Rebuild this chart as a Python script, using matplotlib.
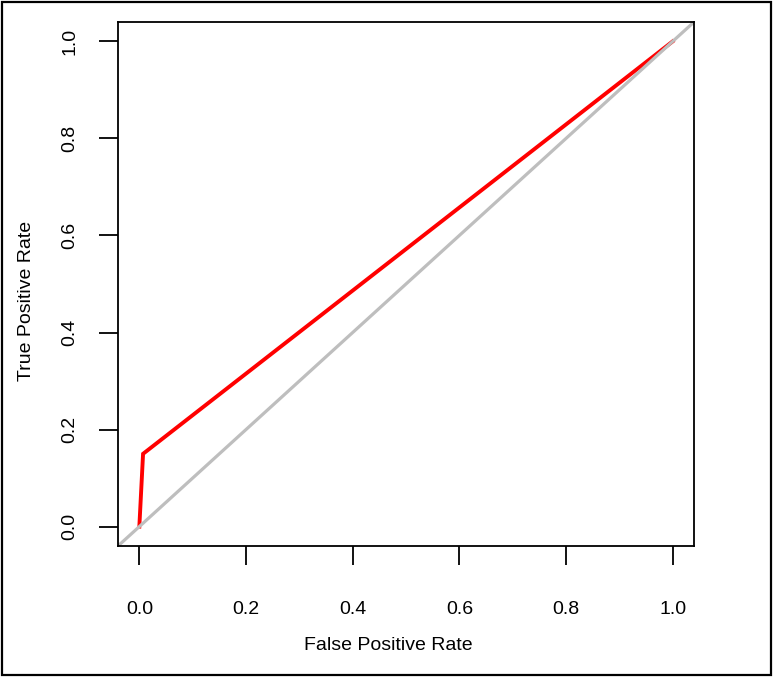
import matplotlib
import matplotlib.pyplot as plt
from matplotlib.patches import Rectangle

matplotlib.use('Agg')

# ROC curve points (FPR, TPR)
fpr = [0.0, 0.007, 1.0]
tpr = [0.0, 0.15, 1.0]

# chance line
diag_x = [-0.04, 1.04]
diag_y = [-0.04, 1.04]

x_ticks = [0.0, 0.2, 0.4, 0.6, 0.8, 1.0]
y_ticks = [0.0, 0.2, 0.4, 0.6, 0.8, 1.0]
tick_labels = ['0.0', '0.2', '0.4', '0.6', '0.8', '1.0']

plt.rcParams['font.family'] = ['Liberation Sans', 'DejaVu Sans']

W, H = 773, 677
fig = plt.figure(figsize=(W / 100, H / 100), dpi=100)
ax = fig.add_axes([118 / W, (H - 546) / H, 576 / W, 524 / H])

ax.plot(fpr, tpr, color='red', linewidth=2.8, solid_joinstyle='miter')
ax.plot(diag_x, diag_y, color='#bebebe', linewidth=2.3)

ax.set_xlim(-0.04, 1.04)
ax.set_ylim(-0.04, 1.04)

ax.set_xticks(x_ticks)
ax.set_xticklabels(tick_labels)
ax.set_yticks(y_ticks)
ax.set_yticklabels(tick_labels, rotation=90, va='center')

ax.tick_params(axis='both', direction='out', length=13.7, width=1.3,
               labelsize=14, color='black')
ax.tick_params(axis='x', pad=26)
ax.tick_params(axis='y', pad=15)

for s in ax.spines.values():
    s.set_linewidth(1.3)
    s.set_color('black')

ax.set_xlabel('False Positive Rate', fontsize=14, va='center')
ax.xaxis.set_label_coords((388 - 118) / 576, -(646 - 546) / 524)
ax.set_ylabel('True Positive Rate', fontsize=14, va='center', ha='center')
ax.yaxis.set_label_coords((27 - 118) / 576, (546 - 301) / 524)

# frame around the whole image
fig.patches.append(Rectangle((2 / W, 2 / H), 768.5 / W, 673 / H,
                             transform=fig.transFigure, fill=False,
                             edgecolor='black', linewidth=1.6))

plt.savefig('out.png', dpi=100)
